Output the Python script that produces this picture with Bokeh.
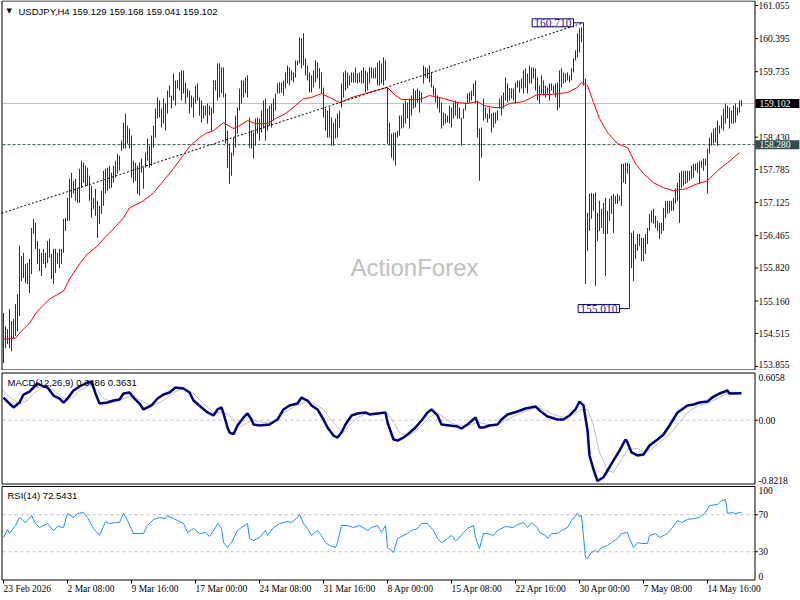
from bokeh.plotting import figure
from bokeh.layouts import column
from bokeh.models import Range1d, Label, BoxAnnotation
from bokeh.embed import file_html
from bokeh.resources import INLINE

# ---------------- data ----------------
symbol = "USDJPY,H4"
last_ohlc = [159.129, 159.168, 159.041, 159.102]

highs = [
    154.92, 154.66, 154.60, 155.00, 154.76, 154.80, 155.10, 155.30, 156.26, 156.06,
    156.12, 155.90, 155.92, 156.00, 156.62, 156.80, 156.72, 156.36, 156.20, 156.12,
    156.20, 156.12, 156.36, 156.40, 156.10, 156.20, 156.20, 156.12, 156.20, 156.20,
    156.80, 156.82, 157.22, 157.60, 157.72, 157.56, 157.60, 157.42, 157.80, 157.96,
    157.92, 157.86, 157.82, 157.66, 157.46, 157.22, 157.40, 157.16, 157.06, 157.36,
    157.76, 157.80, 157.82, 157.86, 157.72, 157.86, 157.96, 158.10, 158.06, 158.36,
    158.72, 158.90, 158.66, 158.60, 158.46, 157.96, 157.92, 157.86, 157.92, 158.00,
    157.82, 158.12, 158.40, 158.26, 158.46, 158.66, 159.00, 159.22, 159.16, 159.00,
    159.20, 159.10, 159.36, 159.46, 159.26, 159.70, 159.56, 159.56, 159.72, 159.76,
    159.76, 159.52, 159.40, 159.36, 159.26, 159.22, 159.46, 159.50, 159.22, 159.16,
    159.06, 159.06, 159.10, 159.06, 159.02, 159.56, 159.56, 159.90, 159.90, 159.82,
    159.82, 159.30, 158.56, 158.30, 158.12, 158.42, 158.86, 159.02, 159.40, 159.56,
    159.56, 159.62, 159.66, 158.82, 158.56, 158.52, 158.80, 158.82, 158.80, 158.96,
    159.16, 159.20, 159.00, 159.06, 159.10, 159.20, 159.30, 159.50, 159.52, 159.52,
    159.56, 159.72, 159.86, 159.82, 159.76, 159.72, 159.96, 159.96, 160.42, 160.40,
    160.50, 160.00, 159.86, 159.72, 159.66, 159.76, 159.96, 159.92, 159.80, 159.72,
    159.42, 159.00, 158.96, 159.02, 158.82, 158.72, 158.80, 158.90, 158.96, 159.50,
    159.72, 159.76, 159.72, 159.66, 159.72, 159.72, 159.82, 159.70, 159.72, 159.76,
    159.82, 159.76, 159.72, 159.82, 159.82, 159.80, 159.82, 159.92, 159.96, 159.90,
    160.02, 159.96, 159.42, 158.72, 158.50, 158.52, 158.52, 158.56, 158.86, 158.86,
    159.10, 159.16, 159.12, 159.20, 159.26, 159.40, 159.36, 159.40, 159.36, 159.32,
    159.86, 159.82, 159.80, 159.86, 159.72, 159.46, 159.40, 159.26, 159.22, 159.12,
    158.92, 158.90, 158.86, 159.06, 159.02, 159.12, 159.16, 159.12, 159.02, 158.82,
    159.00, 159.12, 159.30, 159.32, 159.36, 159.50, 159.56, 159.16, 158.60, 158.62,
    159.20, 159.02, 158.90, 159.02, 158.90, 158.92, 158.92, 158.96, 159.20, 159.26,
    159.32, 159.62, 159.50, 159.40, 159.40, 159.40, 159.52, 159.56, 159.56, 159.60,
    159.76, 159.80, 159.70, 159.86, 159.82, 159.82, 159.80, 159.62, 159.46, 159.66,
    159.56, 159.46, 159.42, 159.50, 159.50, 159.46, 159.50, 159.52, 159.76, 159.80,
    159.72, 159.70, 159.72, 159.66, 159.80, 160.00, 160.16, 160.50, 160.60, 160.62,
    160.71, 159.60, 156.92, 157.30, 157.32, 157.30, 157.32, 156.92, 157.16, 157.00,
    157.12, 157.22, 156.96, 157.20, 157.26, 157.30, 157.26, 157.30, 157.26, 157.90,
    157.90, 157.92, 157.92, 157.90, 156.52, 156.56, 156.30, 156.50, 156.50, 156.42,
    156.42, 156.50, 156.62, 156.90, 156.96, 157.00, 156.86, 156.76, 156.72, 156.72,
    157.02, 157.16, 157.16, 157.16, 157.16, 157.22, 157.40, 157.52, 157.72, 157.76,
    157.76, 157.76, 157.76, 157.76, 157.86, 157.90, 157.90, 157.92, 157.96, 157.96,
    158.00, 158.00, 158.20, 158.42, 158.52, 158.60, 158.62, 158.76, 158.66, 158.86,
    159.00, 159.10, 159.06, 159.02, 158.96, 159.06, 159.10, 159.02, 159.16, 159.168,
]

lows = [
    153.92, 154.22, 154.30, 154.22, 154.16, 154.42, 154.46, 154.56, 154.86, 155.56,
    155.62, 155.52, 155.50, 155.32, 155.70, 156.50, 156.20, 155.90, 155.76, 155.66,
    155.90, 155.82, 155.92, 156.02, 155.60, 155.50, 155.72, 155.90, 155.82, 155.90,
    156.12, 156.56, 156.76, 156.76, 157.22, 157.30, 157.16, 157.12, 157.12, 157.42,
    157.52, 157.46, 157.46, 157.16, 156.82, 157.00, 156.86, 156.42, 156.70, 156.90,
    157.06, 157.30, 157.36, 157.40, 157.42, 157.52, 157.62, 157.70, 157.76, 158.16,
    158.20, 158.20, 158.30, 158.20, 157.62, 157.52, 157.56, 157.30, 157.26, 157.72,
    157.40, 157.82, 157.96, 157.82, 157.86, 158.22, 158.42, 158.80, 158.82, 158.62,
    158.70, 158.56, 158.90, 159.22, 159.00, 159.16, 159.06, 159.40, 159.36, 159.16,
    159.30, 159.10, 159.22, 158.90, 159.02, 158.82, 159.10, 159.16, 158.86, 158.72,
    158.80, 158.86, 158.70, 158.86, 158.56, 158.90, 159.36, 159.16, 159.22, 159.30,
    159.22, 158.30, 157.82, 157.50, 157.66, 158.06, 158.22, 158.50, 158.96, 159.10,
    159.22, 159.30, 159.22, 158.22, 158.20, 158.00, 158.26, 158.50, 158.36, 158.52,
    158.60, 158.36, 158.56, 158.66, 158.62, 158.76, 158.96, 159.30, 159.30, 159.32,
    159.26, 159.40, 159.50, 159.46, 159.56, 159.52, 159.62, 159.86, 159.90, 159.80,
    159.86, 159.66, 159.56, 159.32, 159.32, 159.42, 159.52, 159.60, 159.40, 159.30,
    158.82, 158.56, 158.42, 158.42, 158.26, 158.26, 158.40, 158.42, 158.62, 159.02,
    159.22, 159.36, 159.40, 159.46, 159.52, 159.52, 159.52, 159.50, 159.52, 159.50,
    159.50, 159.32, 159.36, 159.50, 159.60, 159.60, 159.60, 159.46, 159.46, 159.50,
    159.46, 159.56, 158.30, 158.26, 158.02, 157.96, 157.86, 158.42, 158.46, 158.60,
    158.62, 158.70, 158.80, 158.60, 158.86, 159.00, 159.02, 159.12, 158.92, 159.12,
    159.50, 159.62, 159.60, 159.52, 159.42, 159.26, 159.12, 159.00, 158.92, 158.60,
    158.66, 158.70, 158.72, 158.70, 158.62, 158.80, 158.86, 158.80, 158.80, 158.26,
    158.80, 158.96, 159.10, 159.12, 159.16, 159.26, 159.10, 158.42, 157.56, 158.02,
    158.76, 158.80, 158.72, 158.80, 158.52, 158.62, 158.70, 158.76, 159.00, 158.86,
    159.00, 159.16, 159.12, 159.16, 159.20, 159.16, 159.10, 159.42, 159.32, 159.40,
    159.30, 159.42, 159.30, 159.50, 159.50, 159.60, 159.36, 159.16, 159.10, 159.30,
    159.26, 159.22, 159.30, 159.16, 159.36, 159.30, 159.22, 158.96, 159.02, 159.42,
    159.50, 159.52, 159.56, 159.52, 159.56, 159.72, 159.96, 160.02, 160.12, 160.32,
    159.46, 155.50, 156.16, 156.56, 156.80, 156.96, 155.46, 156.36, 156.56, 156.62,
    156.50, 155.66, 156.50, 156.76, 156.90, 156.52, 157.10, 157.10, 157.16, 157.06,
    157.52, 157.50, 157.70, 155.01, 155.82, 155.56, 156.00, 156.16, 156.26, 155.96,
    155.96, 156.10, 156.30, 156.56, 156.72, 156.70, 156.62, 156.56, 156.40, 156.50,
    156.56, 156.82, 156.90, 156.92, 156.96, 156.96, 157.10, 157.16, 156.72, 157.42,
    157.46, 157.50, 157.52, 157.56, 157.60, 157.62, 157.76, 157.72, 157.50, 157.82,
    157.76, 157.86, 157.30, 158.10, 158.26, 158.30, 158.32, 158.26, 158.50, 158.60,
    158.56, 158.70, 158.80, 158.60, 158.70, 158.70, 158.72, 158.86, 158.92, 159.041,
]
bar_idx = list(range(len(highs)))

# red moving average (sampled along the line)
ma_idx = [0, 6, 8, 13, 17, 23, 30, 33, 38, 42, 47, 50, 55, 60, 63, 70, 75, 80, 85, 89,
          93, 98, 101, 105, 110, 115, 118, 122, 126, 132, 136, 141, 146, 150, 154, 159, 164, 168, 174, 181,
          186, 192, 196, 199, 208, 213, 220, 227, 232, 237, 240, 245, 249, 253, 260, 267, 273, 278, 282, 287,
          289, 292, 295, 298, 302, 307, 312, 316, 320, 325, 330, 335, 341, 347, 352, 357, 362, 368]
ma_val = [154.40, 154.42, 154.52, 154.72, 154.96, 155.20, 155.36, 155.60, 155.90, 156.10,
          156.26, 156.40, 156.60, 156.82, 157.02, 157.16, 157.32, 157.56, 157.80, 158.02,
          158.24, 158.42, 158.50, 158.56, 158.72, 158.60, 158.66, 158.76, 158.70, 158.70,
          158.80, 158.90, 159.06, 159.20, 159.22, 159.30, 159.20, 159.12, 159.22, 159.30,
          159.36, 159.42, 159.26, 159.18, 159.18, 159.26, 159.20, 159.12, 159.10, 159.14,
          159.06, 159.02, 159.02, 159.10, 159.14, 159.28, 159.28, 159.30, 159.32, 159.42,
          159.52, 159.46, 159.12, 158.80, 158.52, 158.30, 158.22, 157.90, 157.70, 157.52,
          157.42, 157.36, 157.40, 157.50, 157.56, 157.76, 157.92, 158.12]

# MACD(12,26,9) main line
macd_idx = [0, 3, 5, 8, 10, 13, 15, 17, 20, 22, 25, 28, 30, 32, 35, 38, 41, 44, 46, 48,
            52, 55, 58, 60, 63, 65, 68, 70, 74, 77, 80, 83, 86, 90, 93, 95, 99, 102, 105, 107,
            109, 110, 112, 113, 115, 117, 120, 122, 124, 125, 128, 133, 137, 140, 143, 147, 149, 152, 154, 157,
            160, 162, 165, 167, 169, 171, 174, 177, 181, 183, 187, 191, 192, 195, 197, 200, 202, 206, 209, 212,
            214, 217, 219, 223, 227, 229, 232, 236, 238, 240, 243, 247, 249, 252, 257, 261, 266, 268, 272, 277,
            280, 283, 286, 288, 290, 292, 293, 295, 297, 300, 302, 305, 308, 311, 312, 314, 317, 320, 323, 327,
            330, 333, 337, 342, 345, 348, 352, 355, 358, 362, 363, 369]
macd_val = [0.294, 0.216, 0.165, 0.229, 0.333, 0.372, 0.424, 0.476, 0.437, 0.424,
            0.320, 0.281, 0.229, 0.281, 0.385, 0.437, 0.476, 0.502, 0.346, 0.216,
            0.229, 0.255, 0.268, 0.346, 0.359, 0.294, 0.216, 0.139, 0.191, 0.281,
            0.333, 0.359, 0.424, 0.411, 0.359, 0.255, 0.165, 0.100, 0.061, 0.139,
            0.165, 0.087, -0.095, -0.160, -0.182, -0.069, 0.035, 0.087, 0.009, -0.056,
            -0.069, -0.056, 0.009, 0.139, 0.191, 0.217, 0.294, 0.255, 0.191, 0.139,
            0.009, -0.095, -0.199, -0.225, -0.160, -0.056, 0.061, 0.087, 0.100, 0.074,
            0.087, 0.100, -0.030, -0.251, -0.264, -0.225, -0.186, -0.095, -0.004, 0.100,
            0.139, 0.061, -0.056, -0.069, -0.082, -0.108, -0.056, 0.035, -0.095, -0.095,
            -0.069, -0.056, 0.009, 0.074, 0.113, 0.152, 0.178, 0.126, 0.048, 0.009,
            0.009, 0.061, 0.139, 0.242, 0.191, -0.134, -0.458, -0.640, -0.790, -0.740,
            -0.653, -0.523, -0.394, -0.251, -0.290, -0.419, -0.458, -0.445, -0.329, -0.251,
            -0.186, -0.069, 0.100, 0.191, 0.204, 0.230, 0.242, 0.307, 0.346, 0.385, 0.346, 0.3486]

# MACD signal line
sig_idx = [0, 3, 8, 12, 15, 20, 25, 30, 35, 38, 43, 47, 50, 55, 60, 65, 70, 75, 80, 85,
           90, 95, 100, 105, 110, 113, 116, 118, 122, 125, 130, 135, 138, 142, 147, 152, 156, 160, 163, 167,
           170, 173, 177, 182, 187, 192, 195, 198, 202, 205, 209, 213, 217, 222, 226, 230, 234, 238, 242, 247,
           252, 257, 262, 267, 271, 275, 280, 285, 289, 292, 295, 298, 302, 305, 309, 312, 317, 320, 324, 328,
           333, 338, 343, 348, 353, 358, 363, 369]
sig_val = [0.385, 0.294, 0.216, 0.255, 0.346, 0.437, 0.385, 0.281, 0.294, 0.385,
           0.450, 0.385, 0.281, 0.229, 0.281, 0.320, 0.229, 0.191, 0.255, 0.359,
           0.411, 0.346, 0.216, 0.100, 0.100, 0.061, -0.030, -0.095, -0.030, -0.004,
           -0.030, -0.017, 0.061, 0.126, 0.191, 0.242, 0.204, 0.139, 0.035, -0.095,
           -0.160, -0.069, 0.035, 0.087, 0.100, 0.087, -0.030, -0.160, -0.199, -0.160,
           -0.069, 0.035, 0.100, -0.004, -0.056, -0.069, -0.056, -0.030, -0.056, -0.056,
           0.009, 0.074, 0.126, 0.165, 0.126, 0.074, 0.035, 0.074, 0.139, 0.139,
           -0.069, -0.419, -0.653, -0.679, -0.510, -0.380, -0.367, -0.419, -0.380, -0.290,
           -0.186, -0.030, 0.126, 0.191, 0.230, 0.294, 0.359, 0.3631]
macd_last = [0.3486, 0.3631]
macd_limits = [0.6058, -0.8218]
macd_ticks = [0.0]

# RSI(14)
rsi_idx = [0, 2, 3, 6, 8, 11, 12, 14, 16, 18, 22, 25, 27, 30, 32, 35, 37, 40, 42, 45,
           48, 51, 53, 56, 58, 60, 62, 65, 67, 70, 72, 75, 78, 81, 82, 85, 87, 90, 92, 95,
           98, 101, 103, 106, 107, 109, 110, 112, 114, 117, 119, 122, 123, 125, 128, 131, 132, 135, 138, 142,
           144, 147, 148, 150, 152, 154, 157, 159, 161, 163, 166, 167, 169, 172, 175, 178, 182, 184, 187, 189,
           191, 192, 195, 197, 198, 202, 204, 207, 209, 212, 215, 217, 219, 222, 224, 226, 227, 230, 232, 235,
           236, 238, 240, 242, 245, 247, 251, 255, 257, 260, 262, 264, 267, 268, 271, 272, 274, 277, 279, 282,
           284, 287, 288, 289, 291, 292, 294, 296, 297, 299, 302, 304, 307, 309, 312, 313, 315, 317, 319, 322,
           323, 326, 328, 332, 334, 337, 339, 342, 345, 348, 351, 353, 357, 359, 361, 362, 364, 366, 369]
rsi_val = [45.4, 54.1, 49.7, 58.4, 67.0, 61.6, 63.8, 69.2, 60.5, 56.2, 60.5, 53.0, 57.3, 56.2, 71.4, 67.0, 71.4, 72.4, 67.0, 55.1,
           47.6, 62.7, 60.5, 61.6, 61.6, 71.4, 63.8, 49.7, 49.7, 49.7, 58.4, 64.9, 67.0, 65.9, 69.2, 65.9, 63.8, 60.5, 50.8, 55.1,
           49.7, 50.8, 46.5, 56.2, 60.5, 55.1, 40.0, 34.6, 40.0, 53.0, 56.2, 60.5, 44.3, 42.2, 45.4, 53.0, 47.6, 56.2, 60.5, 62.7,
           61.6, 67.0, 70.3, 60.5, 55.1, 47.6, 53.0, 47.6, 40.0, 36.8, 34.6, 40.0, 58.4, 58.4, 56.2, 58.4, 53.0, 56.2, 58.4, 50.8,
           58.4, 34.6, 29.2, 44.3, 45.4, 49.7, 53.0, 55.1, 60.5, 60.5, 53.0, 44.3, 40.0, 44.3, 47.6, 42.2, 43.2, 50.8, 55.1, 58.4,
           45.4, 33.5, 49.7, 49.7, 47.6, 53.0, 57.3, 56.2, 59.5, 61.6, 56.2, 61.6, 56.2, 50.8, 47.6, 44.3, 49.7, 49.7, 53.0, 56.2,
           63.8, 71.4, 68.1, 69.0, 23.8, 22.7, 29.2, 31.4, 29.2, 34.6, 36.8, 40.0, 44.3, 49.7, 50.8, 44.3, 34.6, 40.0, 38.9, 38.9,
           47.6, 49.7, 45.4, 49.7, 55.1, 63.8, 61.6, 64.9, 65.9, 67.0, 72.4, 80.0, 81.1, 85.4, 86.5, 71.4, 72.4, 71.4, 72.5431]
rsi_levels = [70, 30]
rsi_limits = [100, 0]

# objects on the price chart
price_ticks = [161.055, 160.395, 159.735, 158.430, 157.785, 157.125, 156.465,
               155.820, 155.160, 154.515, 153.855]
price_limits = [161.135, 153.795]
hline_level = 158.280
trend_idx = [-1, 290]
trend_price = [156.91, 160.71]
swing_idx = [290, 313]
swing_price = [160.710, 155.010]

x_ticks = [0, 32, 64, 96, 128, 160, 192, 224, 256, 288, 320, 352]
x_labels = ["23 Feb 2026", "2 Mar 08:00", "9 Mar 16:00", "17 Mar 00:00", "24 Mar 08:00",
            "31 Mar 16:00", "8 Apr 00:00", "15 Apr 08:00", "22 Apr 16:00", "30 Apr 00:00",
            "7 May 08:00", "14 May 16:00"]

# ---------------- styling / layout helpers ----------------
FONT = "Liberation Sans"
FS = "9.5px"
BAR = "#0b3c5d"
W = 800
x_rng = Range1d(-1.5, 398.5)            # 2 px per bar, whole canvas width


def px_x(c):
    return x_rng.start + c * (x_rng.end - x_rng.start) / W


def make_fig(h, top_px, bot_px, top_val, bot_val):
    # frame covers the whole canvas; panel [top_px, bot_px] carries [top_val, bot_val]
    s = (top_val - bot_val) / (bot_px - top_px)
    yr = Range1d(bot_val - (h - bot_px) * s, top_val + top_px * s)
    p = figure(width=W, height=h, x_range=x_rng, y_range=yr, output_backend="svg",
               toolbar_location=None, x_axis_location=None, y_axis_location=None,
               min_border=0, outline_line_color=None)
    p.xgrid.visible = False
    p.ygrid.visible = False
    p.background_fill_color = "white"
    p.border_fill_color = "white"

    def py(c):
        return yr.end - c * (yr.end - yr.start) / h
    p.add_layout(BoxAnnotation(left=px_x(1.5), right=px_x(754.5), top=py(top_px - 0.5),
                               bottom=py(bot_px + 0.5), fill_alpha=0, line_color="black",
                               line_width=1, line_alpha=1))
    return p, py


def right_labels(p, vals, texts, baseline="middle", y_offset=0):
    p.text(x=[px_x(758)] * len(vals), y=vals, text=texts, text_font=FONT,
           text_font_size=FS, text_color="black", text_align="left", text_baseline=baseline,
           y_offset=y_offset)


def right_ticks(p, vals):
    p.segment(x0=[px_x(754.5)] * len(vals), x1=[px_x(757.5)] * len(vals), y0=vals, y1=vals,
              line_color="black", line_width=1)


def hline(p, level, color, dash="solid"):
    p.segment(x0=[px_x(2)], x1=[px_x(754)], y0=[level], y1=[level],
              line_color=color, line_width=1, line_dash=dash)


def label(p, x, y, text, size=FS, color="black", align="left", font=FONT):
    p.add_layout(Label(x=x, y=y, x_units="screen", y_units="screen", text=text,
                       text_font=font, text_font_size=size, text_color=color,
                       text_align=align, text_baseline="middle"))


# ---------------- price panel ----------------
H1 = 370
p1, py1 = make_fig(H1, 1, 369, price_limits[0], price_limits[1])
label(p1, 414, H1 - 267, "ActionForex", size="24px", color="#c0c0c0", align="center")
hline(p1, last_ohlc[3], "#c0c0c0")
hline(p1, hline_level, "#2f4f4f", "3 2")
p1.segment(x0=bar_idx, y0=lows, x1=bar_idx, y1=highs, line_color=BAR, line_width=1)
p1.line(ma_idx, ma_val, line_color="red", line_width=1)
p1.line(trend_idx, trend_price, line_color="black", line_width=1, line_dash="2 2")

label_gap = 5
p1.segment(x0=[i - label_gap for i in swing_idx], x1=swing_idx, y0=swing_price, y1=swing_price,
           line_color="#000080", line_width=1)
p1.text(x=[i - label_gap for i in swing_idx], y=swing_price,
        text=[f"{v:.3f}" for v in swing_price], text_font=FONT, text_font_size="11.5px",
        text_color="#1a1a9a", text_align="right", text_baseline="middle",
        background_fill_color="white", border_line_color="#000080", border_line_width=1,
        padding=dict(left=2, right=2, top=0, bottom=0))

right_ticks(p1, price_ticks)
right_labels(p1, price_ticks[:-1], [f"{t:.3f}" for t in price_ticks[:-1]])
right_labels(p1, price_ticks[-1:], [f"{price_ticks[-1]:.3f}"], y_offset=-2)
for lv, bg in [(last_ohlc[3], "black"), (hline_level, "#2f4f4f")]:
    p1.text(x=[px_x(755)], y=[lv], text=[f"{lv:.3f}"], text_font=FONT, text_font_size=FS,
            text_color="white", text_align="left", text_baseline="middle",
            background_fill_color=bg, padding=dict(left=4, right=9, top=1, bottom=1))

label(p1, 18, H1 - 10.7, symbol + "  " + " ".join(f"{v:.3f}" for v in last_ohlc))
label(p1, 6, H1 - 10.5, "\u25bc", size="7px", font="DejaVu Sans")

# ---------------- MACD panel ----------------
H2 = 115
p2, py2 = make_fig(H2, 3, 113, macd_limits[0], macd_limits[1])
hline(p2, 0.0, "#c0c0c0", "3 3")
p2.line(sig_idx, sig_val, line_color="#c0c0c0", line_width=1)
p2.line(macd_idx, macd_val, line_color="#000080", line_width=2.5)
label(p2, 7, H2 - 11.7, "MACD(12,26,9) " + f"{macd_last[0]:.4f} {macd_last[1]:.4f}")
right_ticks(p2, macd_ticks)
right_labels(p2, macd_ticks, ["0.00"])
right_labels(p2, [macd_limits[0]], [f"{macd_limits[0]:.4f}"], baseline="top")
right_labels(p2, [macd_limits[1]], [f"{macd_limits[1]:.4f}"], baseline="bottom")

# ---------------- RSI panel ----------------
H3 = 115
p3, py3 = make_fig(H3, 1.5, 94, rsi_limits[0], rsi_limits[1])
for lv in rsi_levels:
    hline(p3, lv, "#c0c0c0", "3 3")
p3.line(rsi_idx, rsi_val, line_color="#1e90ff", line_width=1)
label(p3, 7, H3 - 10, f"RSI(14) {rsi_val[-1]:.4f}")
right_ticks(p3, rsi_levels)
right_labels(p3, rsi_levels, [str(v) for v in rsi_levels])
right_labels(p3, [rsi_limits[0]], [str(rsi_limits[0])], baseline="top")
right_labels(p3, [rsi_limits[1]], [str(rsi_limits[1])], baseline="bottom")

# time axis under the RSI panel
p3.segment(x0=x_ticks, x1=x_ticks, y0=[py3(94.5)] * len(x_ticks), y1=[py3(98)] * len(x_ticks),
           line_color="black", line_width=1)
p3.text(x=x_ticks, y=[py3(103)] * len(x_ticks), text=x_labels, text_font=FONT,
        text_font_size=FS, text_color="black", text_align="left", text_baseline="middle")

layout = column(p1, p2, p3, spacing=0)
open("out.html", "w").write(file_html(layout, INLINE, title="USDJPY H4"))
